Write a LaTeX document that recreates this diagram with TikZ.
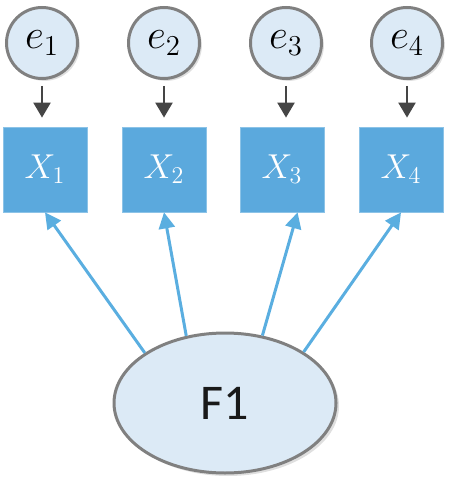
\documentclass[tikz,border=0pt]{standalone}
\usepackage{fontspec}
\newfontfamily\carlito{Carlito}
\usepackage{tikz}
\usetikzlibrary{shapes.geometric, arrows.meta, shadows}

\definecolor{boxblue}{HTML}{5BA9DD}
\definecolor{paleblue}{HTML}{DCEAF6}
\definecolor{rimgray}{HTML}{808080}
\definecolor{linkblue}{HTML}{5AAEE0}
\definecolor{errgray}{HTML}{454545}

\begin{document}
\begin{tikzpicture}[
    x=0.5pt, y=-0.5pt,
    err/.style={circle, draw=rimgray, fill=paleblue, line width=1.5pt, minimum size=35.5pt, inner sep=0pt, font=\fontsize{22}{24}\selectfont, drop shadow={opacity=0.25, shadow xshift=1.2pt, shadow yshift=-1.2pt}},
    obs/.style={rectangle, fill=boxblue, draw=boxblue!70!white, line width=0.4pt, minimum width=42pt, minimum height=42.5pt, inner sep=0pt, text=white, font=\fontsize{17}{19}\selectfont},
    factor/.style={ellipse, draw=rimgray, fill=paleblue, line width=1.5pt, minimum width=111pt, minimum height=70pt, font=\carlito\fontsize{25}{30}\selectfont, text=black!90, drop shadow={opacity=0.25, shadow xshift=1.5pt, shadow yshift=-1.5pt}},
    errarrow/.style={draw=errgray, line width=1.2pt, shorten <=3pt, shorten >=4.5pt, -{Triangle[length=7.5pt, width=8.5pt]}},
    loadarrow/.style={draw=linkblue, line width=1.5pt, -{Triangle[length=8pt, width=8pt]}}
]
    \useasboundingbox (0,0) rectangle (463,496);

    \node [err] (e1) at (42, 43) {$e_1$};
    \node [err] (e2) at (164, 43) {$e_2$};
    \node [err] (e3) at (286, 43) {$e_3$};
    \node [err] (e4) at (407, 43) {$e_4$};

    \node [obs] (x1) at (45, 169.5) {$X_1$};
    \node [obs] (x2) at (164, 169.5) {$X_2$};
    \node [obs] (x3) at (282, 169.5) {$X_3$};
    \node [obs] (x4) at (401, 169.5) {$X_4$};

    \node [factor] (f1) at (225, 403) {F1};

    \draw [errarrow] (e1) -- (e1 |- x1.north);
    \draw [errarrow] (e2) -- (e2 |- x2.north);
    \draw [errarrow] (e3) -- (e3 |- x3.north);
    \draw [errarrow] (e4) -- (e4 |- x4.north);

    \draw [loadarrow] (f1.148) -- (x1.south);
    \draw [loadarrow] (f1.120) -- (x2.south);
    \draw [loadarrow] (f1.61) -- (x3.-70);
    \draw [loadarrow] (f1.33) -- (x4.south);
\end{tikzpicture}
\end{document}
